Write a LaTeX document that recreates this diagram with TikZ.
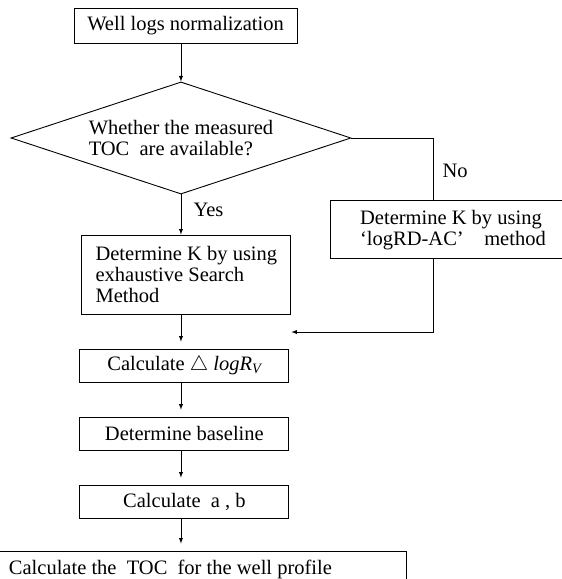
\documentclass[tikz,border=0pt]{standalone}
\usepackage{fontspec}
\setmainfont{Liberation Serif}
\usetikzlibrary{arrows, shapes, positioning}
\tikzstyle{every node} = [font=\fontsize{20.5}{21}\selectfont]
\tikzstyle{block} = [rectangle, draw=black, line width=0.9pt, inner sep=0, minimum width=7.35cm, minimum height=1.16cm]
\tikzstyle{decision} = [diamond, draw=black, line width=0.9pt, aspect=3, inner sep=0]
\tikzstyle{wire} = [line width=0.9pt]
\tikzstyle{flow} = [->, >=latex, line width=0.9pt]
\tikzstyle{shortgap} = [shorten >=7pt]

\begin{document}
\begin{tikzpicture}
	\useasboundingbox (0, 0) rectangle (19.72, -20.35);

	\node (Norm) [block, minimum width=7.84cm, minimum height=1.23cm] at (6.52, -0.90) {Well logs normalization};
	\node (Measured) [decision, minimum width=11.95cm, minimum height=3.94cm, align=left] at (6.36, -4.85) {Whether the measured\\TOC\ \ are available?};
	\draw [flow] (Norm.south -| Measured) -- (Measured);

	% measured TOC available
	\node (Search) [block, minimum height=2.78cm, align=left] at (6.55, -9.65) {Determine K by using\\exhaustive Search\\Method};
	\draw [flow] (Measured.south) -- (Search.north -| Measured);
	\node (Yes) [anchor=west] at (6.68, -7.38) {Yes};

	% no measured TOC
	\coordinate (NoTurn) at (15.25, -4.85);
	\node (LogRD) [block, minimum width=8.58cm, minimum height=2.04cm, align=left] at (15.92, -8.08) {Determine K by using\\‘logRD-AC’\quad method};
	\draw [wire] (Measured.east) -- (NoTurn);
	\draw [wire] (NoTurn) -- (LogRD.north -| NoTurn);
	\node (No) [anchor=west] at (15.43, -6.01) {No};

	\coordinate (Merge) at (15.25, -11.67);
	\draw [wire] (LogRD.south -| Merge) -- (Merge);
	\draw [flow] (Merge) -- (Search.east |- Merge);

	% common steps
	\node (LogR) [block] at (6.48, -12.85) {Calculate $\triangle$ \textit{logR\textsubscript{V}}};
	\draw [flow, shortgap] (Search.south -| Measured) -- (LogR.north -| Measured);

	\node (Baseline) [block] at (6.48, -15.24) {Determine baseline};
	\draw [flow, shortgap] (LogR.south -| Measured) -- (Baseline.north -| Measured);

	\node (AB) [block] at (6.48, -17.63) {Calculate\ \ a , b};
	\draw [flow, shortgap] (Baseline.south -| Measured) -- (AB.north -| Measured);

	\node (TOC) [block, minimum width=16.62cm, minimum height=1.27cm] at (5.99, -20.00) {Calculate the\ \ TOC\ \ for the well profile};
	\draw [flow, shortgap] (AB.south -| Measured) -- (TOC.north -| Measured);
\end{tikzpicture}
\end{document}
